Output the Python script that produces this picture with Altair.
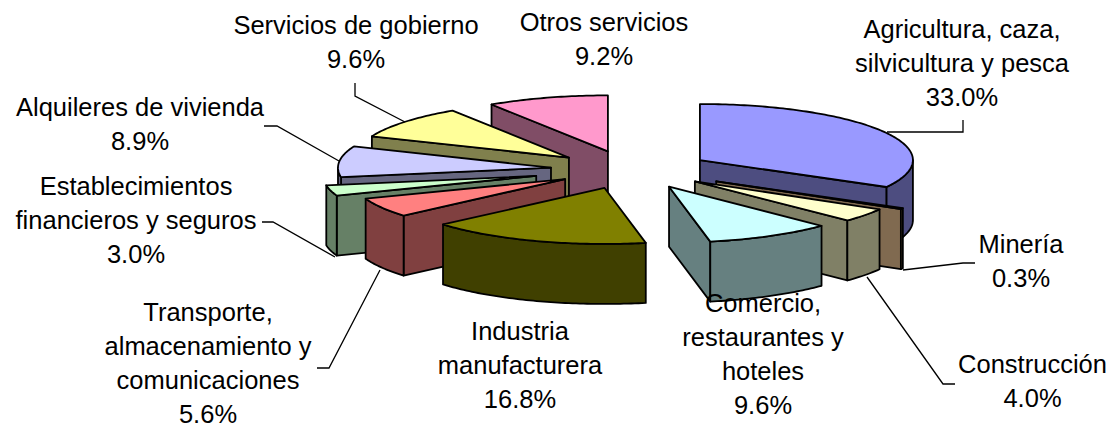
import math
import altair as alt

W, H = 1115, 428

names = ["Agricultura, caza,\nsilvicultura y pesca", "Minería", "Construcción",
         "Comercio,\nrestaurantes y\nhoteles", "Industria\nmanufacturera",
         "Transporte,\nalmacenamiento y\ncomunicaciones",
         "Establecimientos\nfinancieros y seguros", "Alquileres de vivienda",
         "Servicios de gobierno", "Otros servicios"]
values = [33.0, 0.3, 4.0, 9.6, 16.8, 5.6, 3.0, 8.9, 9.6, 9.2]

top_colors = ["#9999FF", "#FFCC99", "#FFFFCC", "#CCFFFF", "#808000",
              "#FF8080", "#CCFFCC", "#CCCCFF", "#FFFF99", "#FF99CC"]
side_colors = ["#4D4D80", "#806A50", "#808066", "#668080", "#404000",
               "#804040", "#668066", "#666680", "#80804D", "#804D66"]
explode = [1.0, 1.22, 1.0, 1.0, 1.0, 0.95, 1.22, 1.0, 1.0, 1.0]

CX, CY, A, B, EX, EY, DEPTH = 630.8, 169.8, 213.0, 56.0, 80.3, 19.2, 60.0
paint_order = [9, 8, 7, 6, 5, 4, 0, 1, 2, 3]

label_x = [962, 1021, 1032.5, 763, 520, 208, 136, 140, 356, 604]
label_y = [30, 244.5, 364.5, 303.5, 331.5, 313, 186.5, 107.5, 26, 23]

leaders = [
    [(887, 132), (963, 132), (963, 120)],
    [(903, 270), (963, 263), (975, 263)],
    [(867, 277), (943, 384), (955, 384)],
    [(380, 270), (329, 368), (317, 368)],
    [(335, 257), (273, 222), (262, 222)],
    [(339, 161), (277, 126), (264, 126)],
    [(405, 122), (355, 96), (355, 83)],
]


def rim(ax, ay, deg):
    r = math.radians(deg)
    return [ax + A * math.sin(r), ay - B * math.cos(r)]


def arc_points(ax, ay, start, end, dy=0.0):
    n = max(2, int(abs(end - start)) + 1)
    pts = []
    for i in range(n + 1):
        p = rim(ax, ay, start + (end - start) * i / n)
        pts.append([p[0], p[1] + dy])
    return pts


def poly(coords, fill):
    return {"type": "Feature", "properties": {"fill": fill},
            "geometry": {"type": "Polygon", "coordinates": [coords + [coords[0]]]}}


def slice_faces(start, end, k, top, side):
    mid = math.radians((start + end) / 2)
    ax = CX + k * EX * math.sin(mid)
    ay = CY - k * EY * math.cos(mid)
    faces = []
    if start >= 180:
        p = rim(ax, ay, start)
        faces.append(poly([[ax, ay], p, [p[0], p[1] + DEPTH], [ax, ay + DEPTH]], side))
    if end <= 180:
        p = rim(ax, ay, end)
        faces.append(poly([[ax, ay], p, [p[0], p[1] + DEPTH], [ax, ay + DEPTH]], side))
    lo, hi = max(start, 90.0), min(end, 270.0)
    if lo < hi:
        upper = arc_points(ax, ay, lo, hi)
        lower = arc_points(ax, ay, hi, lo, DEPTH)
        faces.append(poly(upper + lower, side))
    faces.append(poly([[ax, ay]] + arc_points(ax, ay, start, end), top))
    return faces


edges = [0.0]
total = sum(values)
for v in values:
    edges.append(edges[-1] + v / total * 360)

features = []
for i in paint_order:
    features += slice_faces(edges[i], edges[i + 1], explode[i], top_colors[i], side_colors[i])

pie = alt.Chart(alt.InlineData(values={"type": "FeatureCollection", "features": features},
                               format=alt.DataFormat(type="json", property="features"))
                ).mark_geoshape(stroke="black", strokeWidth=1.8, strokeJoin="round").encode(
    fill=alt.Color("properties.fill:N", scale=None, legend=None)
).project(type="identity", scale=1, translate=[-8, -8])

xs = alt.Scale(domain=[8, W - 8], range=[0, W - 16])
ys = alt.Scale(domain=[8, H], range=[0, H - 8])

leader_rows = [{"id": i, "ord": j, "x": p[0], "y": p[1]}
               for i, line in enumerate(leaders) for j, p in enumerate(line)]
lines = alt.Chart(alt.Data(values=leader_rows)).mark_line(color="black", strokeWidth=1.3).encode(
    x=alt.X("x:Q", scale=xs, axis=None),
    y=alt.Y("y:Q", scale=ys, axis=None),
    detail="id:N",
    order="ord:Q",
)

label_rows = [{"t": f"{n}\n{v:.1f}%", "x": x, "y": y}
              for n, v, x, y in zip(names, values, label_x, label_y)]
labels = alt.Chart(alt.Data(values=label_rows)).mark_text(
    font="Liberation Sans", fontSize=25.5, lineBreak="\n", lineHeight=34,
    align="center", baseline="middle", color="black"
).encode(
    x=alt.X("x:Q", scale=xs, axis=None),
    y=alt.Y("y:Q", scale=ys, axis=None),
    text="t:N",
)

chart = alt.layer(pie, lines, labels).properties(
    width=W - 16, height=H - 8, padding=0, autosize="none"
).configure_view(stroke=None)

chart.save("out.html", embed_options={"renderer": "svg", "actions": False})
